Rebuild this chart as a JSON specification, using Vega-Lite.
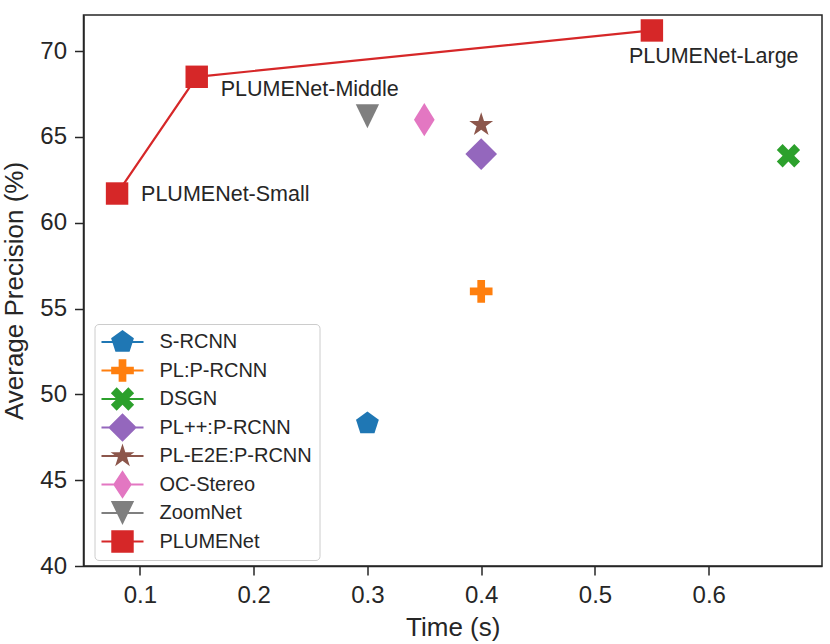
{
  "$schema": "https://vega.github.io/schema/vega-lite/v6.json",
  "width": 738.5,
  "height": 551,
  "autosize": {"type": "none"},
  "padding": {"left": 83.5, "top": 15, "right": 8, "bottom": 78},
  "background": "white",
  "config": {
    "font": "Liberation Sans",
    "view": {"stroke": "#262626", "strokeWidth": 1.5},
    "axis": {
      "domainColor": "#262626", "domainWidth": 1.5,
      "tickColor": "#262626", "tickWidth": 1.5, "tickSize": 9,
      "labelFont": "Liberation Sans", "labelFontSize": 24, "labelColor": "#262626", "labelPadding": 8,
      "titleFont": "Liberation Sans", "titleFontSize": 26, "titleColor": "#262626", "titleFontWeight": "normal",
      "grid": false
    }
  },
  "data": {"values": [
    {"model": "S-RCNN", "time": 0.3, "ap": 48.3},
    {"model": "PL:P-RCNN", "time": 0.4, "ap": 56.0},
    {"model": "DSGN", "time": 0.67, "ap": 63.9},
    {"model": "PL++:P-RCNN", "time": 0.4, "ap": 64.0},
    {"model": "PL-E2E:P-RCNN", "time": 0.4, "ap": 65.7},
    {"model": "OC-Stereo", "time": 0.35, "ap": 66.0},
    {"model": "ZoomNet", "time": 0.3, "ap": 66.2},
    {"model": "PLUMENet", "time": 0.08, "ap": 61.7, "label": "PLUMENet-Small"},
    {"model": "PLUMENet", "time": 0.15, "ap": 68.5, "label": "PLUMENet-Middle"},
    {"model": "PLUMENet", "time": 0.55, "ap": 71.2, "label": "PLUMENet-Large"}
  ]},
  "encoding": {
    "x": {"field": "time", "type": "quantitative",
      "scale": {"domain": [0.0505, 0.6995], "nice": false, "zero": false},
      "axis": {"values": [0.1, 0.2, 0.3, 0.4, 0.5, 0.6], "format": ".1f", "title": "Time (s)", "titlePadding": 7}},
    "y": {"field": "ap", "type": "quantitative",
      "scale": {"domain": [40, 72.1], "nice": false, "zero": false},
      "axis": {"values": [40, 45, 50, 55, 60, 65, 70], "format": "d", "title": "Average Precision (%)", "titlePadding": 12}}
  },
  "layer": [
    {
      "transform": [{"filter": "datum.model === 'PLUMENet'"}],
      "mark": {"type": "line", "color": "#d62728", "strokeWidth": 2.2},
      "encoding": {"order": {"field": "time"}}
    },
    {
      "mark": {"type": "point", "filled": true, "opacity": 1, "size": 484},
      "encoding": {
        "color": {"field": "model", "type": "nominal", "legend": null,
          "scale": {"domain": ["S-RCNN", "PL:P-RCNN", "DSGN", "PL++:P-RCNN", "PL-E2E:P-RCNN", "OC-Stereo", "ZoomNet", "PLUMENet"],
                    "range": ["#1f77b4", "#ff7f0e", "#2ca02c", "#9467bd", "#8c564b", "#e377c2", "#7f7f7f", "#d62728"]}},
        "shape": {"field": "model", "type": "nominal", "legend": null,
          "scale": {"domain": ["S-RCNN", "PL:P-RCNN", "DSGN", "PL++:P-RCNN", "PL-E2E:P-RCNN", "OC-Stereo", "ZoomNet", "PLUMENet"],
                    "range": [
                      "M0,-1.09L1.037,-0.337L0.641,0.882L-0.641,0.882L-1.037,-0.337Z",
                      "M-0.35,-1.03H0.35V-0.35H1.03V0.35H0.35V1.03H-0.35V0.35H-1.03V-0.35H-0.35Z",
                      "M0.53,-1.06L1.06,-0.53L0.53,0L1.06,0.53L0.53,1.06L0,0.53L-0.53,1.06L-1.06,0.53L-0.53,0L-1.06,-0.53L-0.53,-1.06L0,-0.53Z",
                      "M0,-1.44L1.44,0L0,1.44L-1.44,0Z",
                      "M0,-1.14L0.256,-0.352L1.084,-0.352L0.415,0.134L0.67,0.922L0,0.436L-0.67,0.922L-0.415,0.134L-1.084,-0.352L-0.256,-0.352Z",
                      "M0,-1.51L0.94,0L0,1.51L-0.94,0Z",
                      "M-1.06,-1.1L1.06,-1.1L0,1.1Z",
                      "M-1.02,-1.02H1.02V1.02H-1.02Z"
                    ]}}
      }
    },
    {
      "mark": {"type": "point", "filled": true, "opacity": 0, "size": 484},
      "encoding": {
        "color": {"field": "model", "type": "nominal",
          "scale": {"domain": ["S-RCNN", "PL:P-RCNN", "DSGN", "PL++:P-RCNN", "PL-E2E:P-RCNN", "OC-Stereo", "ZoomNet", "PLUMENet"],
                    "range": ["#1f77b4", "#ff7f0e", "#2ca02c", "#9467bd", "#8c564b", "#e377c2", "#7f7f7f", "#d62728"]},
          "legend": {"orient": "none", "legendX": 11, "legendY": 309, "title": null,
            "labelFont": "Liberation Sans", "labelFontSize": 20, "labelColor": "#262626", "labelOffset": 26,
            "symbolSize": 484, "symbolOpacity": 1, "symbolStrokeWidth": 0, "symbolOffset": 10,
            "padding": 7, "rowPadding": -1.5, "gridAlign": "all",
            "strokeColor": "#cccccc", "fillColor": "rgba(255,255,255,0.8)", "cornerRadius": 4}},
        "shape": {"field": "model", "type": "nominal",
          "scale": {"domain": ["S-RCNN", "PL:P-RCNN", "DSGN", "PL++:P-RCNN", "PL-E2E:P-RCNN", "OC-Stereo", "ZoomNet", "PLUMENet"],
                    "range": [
                      "M-1.91,-0.09H1.91V0.09H-1.91ZM0,-1.09L1.037,-0.337L0.641,0.882L-0.641,0.882L-1.037,-0.337Z",
                      "M-1.91,-0.09H1.91V0.09H-1.91ZM-0.35,-1.03H0.35V-0.35H1.03V0.35H0.35V1.03H-0.35V0.35H-1.03V-0.35H-0.35Z",
                      "M-1.91,-0.09H1.91V0.09H-1.91ZM0.53,-1.06L1.06,-0.53L0.53,0L1.06,0.53L0.53,1.06L0,0.53L-0.53,1.06L-1.06,0.53L-0.53,0L-1.06,-0.53L-0.53,-1.06L0,-0.53Z",
                      "M-1.91,-0.09H1.91V0.09H-1.91ZM0,-1.3L1.3,0L0,1.3L-1.3,0Z",
                      "M-1.91,-0.09H1.91V0.09H-1.91ZM0,-1.14L0.256,-0.352L1.084,-0.352L0.415,0.134L0.67,0.922L0,0.436L-0.67,0.922L-0.415,0.134L-1.084,-0.352L-0.256,-0.352Z",
                      "M-1.91,-0.09H1.91V0.09H-1.91ZM0,-1.3L0.85,0L0,1.3L-0.85,0Z",
                      "M-1.91,-0.09H1.91V0.09H-1.91ZM-1.06,-1.1L1.06,-1.1L0,1.1Z",
                      "M-1.91,-0.09H1.91V0.09H-1.91ZM-1.02,-1.02H1.02V1.02H-1.02Z"
                    ]},
          "legend": {"orient": "none", "legendX": 11, "legendY": 309, "title": null,
            "labelFont": "Liberation Sans", "labelFontSize": 20, "labelColor": "#262626", "labelOffset": 26,
            "symbolSize": 484, "symbolOpacity": 1, "symbolStrokeWidth": 0, "symbolOffset": 10,
            "padding": 7, "rowPadding": -1.5, "gridAlign": "all",
            "strokeColor": "#cccccc", "fillColor": "rgba(255,255,255,0.8)", "cornerRadius": 4}}
      }
    },
    {
      "transform": [{"filter": "datum.label === 'PLUMENet-Small'"}],
      "mark": {"type": "text", "align": "left", "baseline": "alphabetic", "dx": 24, "dy": 7, "fontSize": 21.5, "font": "Liberation Sans", "color": "#262626"},
      "encoding": {"text": {"field": "label"}}
    },
    {
      "transform": [{"filter": "datum.label === 'PLUMENet-Middle'"}],
      "mark": {"type": "text", "align": "left", "baseline": "alphabetic", "dx": 24, "dy": 19, "fontSize": 21.5, "font": "Liberation Sans", "color": "#262626"},
      "encoding": {"text": {"field": "label"}}
    },
    {
      "transform": [{"filter": "datum.label === 'PLUMENet-Large'"}],
      "mark": {"type": "text", "align": "left", "baseline": "alphabetic", "dx": -23, "dy": 33, "fontSize": 21.5, "font": "Liberation Sans", "color": "#262626"},
      "encoding": {"text": {"field": "label"}}
    }
  ],
  "resolve": {"scale": {"shape": "independent", "color": "independent"}}
}
